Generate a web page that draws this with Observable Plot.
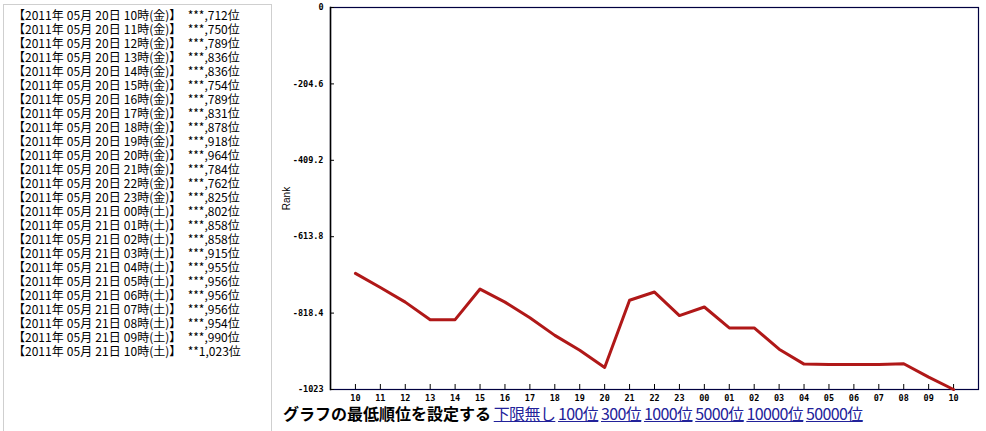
<!DOCTYPE html>
<html>
<head>
<meta charset="utf-8">
<script src="https://cdn.jsdelivr.net/npm/d3@7"></script>
<script src="https://cdn.jsdelivr.net/npm/@observablehq/plot@0.6"></script>
<style>
  html, body { margin: 0; padding: 0; background: #fff; width: 986px; height: 431px; overflow: hidden; }
  #list {
    position: absolute; left: 3px; top: 4px; width: 269px; height: 460px;
    border: 1px solid #cfcfcf; box-sizing: border-box;
    padding: 3px 0 0 9px;
    font-family: "Noto Sans CJK JP", sans-serif; font-size: 12px; line-height: 14px;
    white-space: pre; color: #000; word-spacing: 0.5px;
  }
  #chart { position: absolute; left: 270px; top: 0; }
  #bottom {
    position: absolute; left: 283px; top: 402px;
    font-family: "Noto Sans CJK JP", sans-serif; font-size: 16px; line-height: 22px;
    white-space: pre; color: #000;
  }
  #bottom b { font-weight: bold; }
  #bottom a { color: #22229a; text-decoration: underline; letter-spacing: -0.6px; }
  #bottom .sp { font-size: 12px; }
</style>
</head>
<body>
<div id="list"></div>
<div id="chart"></div>
<div id="bottom"></div>
<script>
// ---- data ----
const days = ["20","20","20","20","20","20","20","20","20","20","20","20","20","20",
              "21","21","21","21","21","21","21","21","21","21","21"];
const hours = ["10","11","12","13","14","15","16","17","18","19","20","21","22","23",
               "00","01","02","03","04","05","06","07","08","09","10"];
const weekdays = ["金","金","金","金","金","金","金","金","金","金","金","金","金","金",
                  "土","土","土","土","土","土","土","土","土","土","土"];
const ranks = [712, 750, 789, 836, 836, 754, 789, 831, 878, 918, 964, 784, 762, 825,
               802, 858, 858, 915, 955, 956, 956, 956, 954, 990, 1023];
const yTicks = [0, -204.6, -409.2, -613.8, -818.4, -1023];
const yTickLabels = ["0", "-204.6", "-409.2", "-613.8", "-818.4", "-1023"];
const footerLead = "グラフの最低順位を設定する";
const footerLinks = ["下限無し", "100位", "300位", "1000位", "5000位", "10000位", "50000位"];

// ---- list panel ----
function maskRank(r) {
  const s = String(r).padStart(6, "*");
  return s.slice(0, 3) + "," + s.slice(3);
}
document.getElementById("list").textContent = ranks.map((r, i) =>
  `【2011年 05月 ${days[i]}日 ${hours[i]}時(${weekdays[i]})】  ${maskRank(r)}位`
).join("\n");

// ---- chart ----
const data = ranks.map((r, i) => ({i, hour: hours[i], value: -r}));
const idx = hours.map((_, i) => i);
const mono = "DejaVu Sans Mono";
const W = 716, H = 406, ML = 60, MR = 8, MT = 7, MB = 17;
const frameW = W - ML - MR, frameH = H - MT - MB;

const chart = Plot.plot({
  width: W,
  height: H,
  marginLeft: ML,
  marginRight: MR,
  marginTop: MT,
  marginBottom: MB,
  style: {background: "transparent", color: "#000", overflow: "visible"},
  x: {type: "linear", domain: [-1, 25], axis: null},
  y: {type: "linear", domain: [-1023, 0], axis: null},
  marks: [
    Plot.frame({stroke: "#000040", strokeWidth: 1.2}),
    Plot.frame({anchor: "left", stroke: "#000", strokeWidth: 1.5}),
    // inward tick marks
    Plot.tickY(yTicks, {y: d => d, insetRight: frameW - 4, stroke: "#000"}),
    Plot.tickX(idx, {x: d => d, insetTop: frameH - 5, stroke: "#000"}),
    // y labels
    Plot.axisY(yTicks, {anchor: "left", tickSize: 0, tickPadding: 7, stroke: "none",
      tickFormat: d => yTickLabels[yTicks.indexOf(d)],
      fontFamily: mono, fontSize: 8.5, fontWeight: "bold", fill: "#000",
      label: "Rank", labelAnchor: "center", labelArrow: "none", labelOffset: 48}),
    // x labels
    Plot.axisX(idx, {anchor: "bottom", tickSize: 0, tickPadding: 5, stroke: "none",
      tickFormat: d => hours[d], fontFamily: mono, fontSize: 8.5, fontWeight: "bold",
      fill: "#000", label: null}),
    Plot.line(data, {x: "i", y: "value", stroke: "#b01818", strokeWidth: 3,
      strokeLinejoin: "round"})
  ]
});
document.getElementById("chart").appendChild(chart);
chart.querySelectorAll("text").forEach(t => {
  if (t.textContent === "Rank") {
    t.setAttribute("font-family", "Liberation Sans, sans-serif");
    t.setAttribute("font-size", "10");
    t.setAttribute("font-weight", "normal");
  }
});

// ---- footer ----
const bottom = document.getElementById("bottom");
const lead = document.createElement("b");
lead.textContent = footerLead;
bottom.appendChild(lead);
footerLinks.forEach(t => {
  const sp = document.createElement("span");
  sp.className = "sp";
  sp.textContent = " ";
  bottom.appendChild(sp);
  const a = document.createElement("a");
  a.href = "#";
  a.textContent = t;
  bottom.appendChild(a);
});
</script>
</body>
</html>
